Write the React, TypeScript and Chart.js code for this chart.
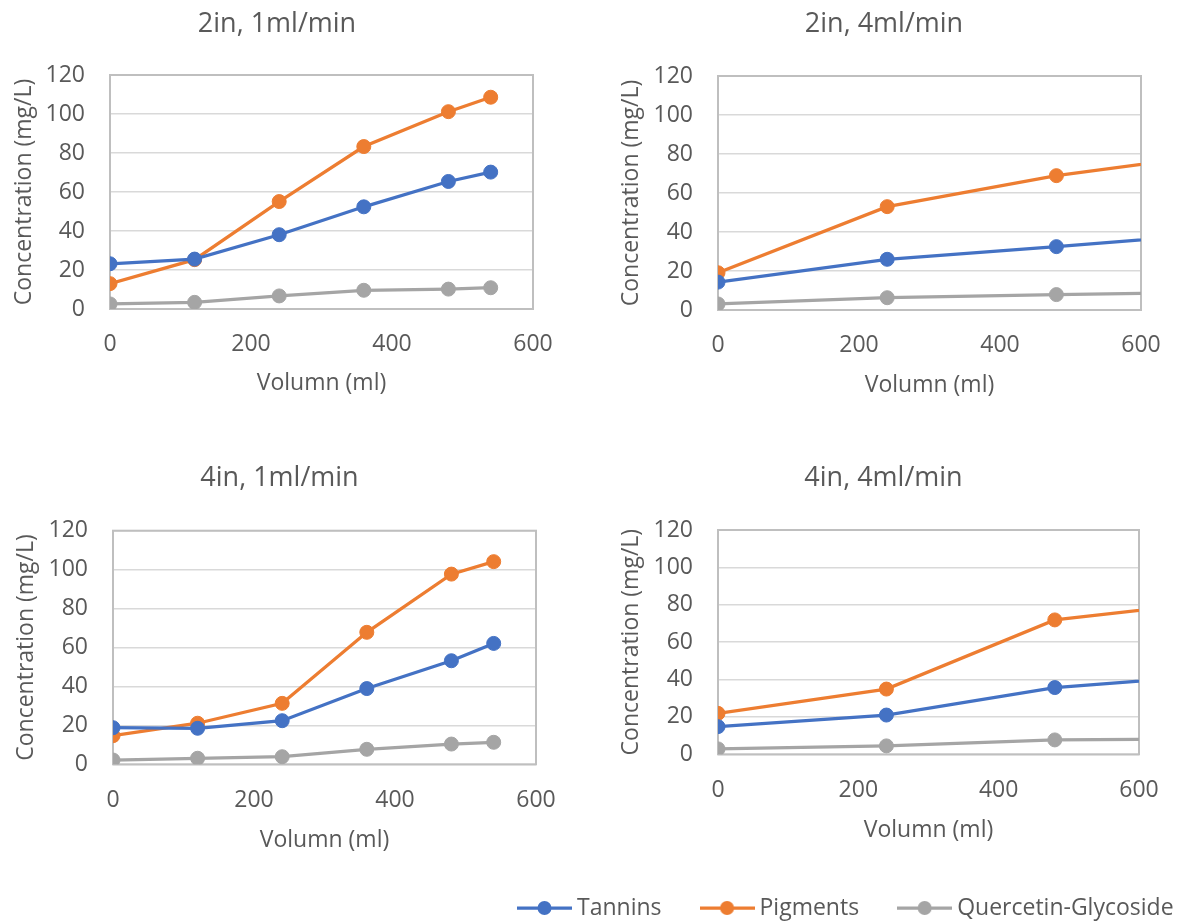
import React, { useEffect, useRef } from 'react';
import { Chart, registerables } from 'chart.js';

Chart.register(...registerables);

// ---------- data ----------
const volumeSixPoints = [0, 120, 240, 360, 480, 540];
const volumeFourPoints = [0, 240, 480, 720];

const tannins2in1 = [23.2, 25.6, 38.1, 52.4, 65.4, 70.2];
const pigments2in1 = [13.0, 25.3, 55.1, 83.3, 101.2, 108.6];
const quercetin2in1 = [2.6, 3.4, 6.7, 9.6, 10.2, 10.9];

const tannins2in4 = [14.3, 26.0, 32.5, 39.3];
const pigments2in4 = [19.1, 53.0, 68.9, 80.5];
const quercetin2in4 = [3.1, 6.3, 7.9, 9.1];

const tannins4in1 = [18.8, 18.5, 22.4, 38.9, 53.2, 62.1];
const pigments4in1 = [14.7, 21.1, 31.3, 67.8, 97.7, 104.1];
const quercetin4in1 = [2.2, 3.1, 3.9, 7.7, 10.4, 11.3];

const tannins4in4 = [14.8, 21.0, 35.7, 42.7];
const pigments4in4 = [21.9, 34.9, 71.9, 82.1];
const quercetin4in4 = [2.9, 4.5, 7.7, 8.3];

const seriesLabels = ['Tannins', 'Pigments', 'Quercetin-Glycoside'];
const seriesColors = ['#4472C4', '#ED7D31', '#A5A5A5'];
const xTickValues = [0, 200, 400, 600];
const yTickValues = [0, 20, 40, 60, 80, 100, 120];
const panelTitles = ['2in, 1ml/min', '2in, 4ml/min', '4in, 1ml/min', '4in, 4ml/min'];
const xAxisTitle = 'Volumn (ml)';
const yAxisTitle = 'Concentration (mg/L)';

// ---------- style ----------
const TEXT = '#595959';
const GRID = '#D9D9D9';
const BOX = '#BFBFBF';
const FONT = "'Open Sans', sans-serif";
const TITLE_SIZE = 27;
const AXIS_SIZE = 23;
const TICK_SIZE = 23;

Chart.defaults.font.family = FONT;
Chart.defaults.color = TEXT;

type Layout = {
  plotLeft: number; plotRight: number; plotTop: number; plotBottom: number;
  titleCx: number; titleCy: number; yTitleCx: number; xTickCy: number; xTitleCy: number;
};

const panels = [
  {
    title: panelTitles[0], volume: volumeSixPoints,
    values: [tannins2in1, pigments2in1, quercetin2in1],
    layout: { plotLeft: 110, plotRight: 533, plotTop: 75, plotBottom: 309, titleCx: 277, titleCy: 24.5, yTitleCx: 24, xTickCy: 344, xTitleCy: 383 },
  },
  {
    title: panelTitles[1], volume: volumeFourPoints,
    values: [tannins2in4, pigments2in4, quercetin2in4],
    layout: { plotLeft: 718, plotRight: 1141, plotTop: 76, plotBottom: 310, titleCx: 884, titleCy: 24.5, yTitleCx: 631.5, xTickCy: 345, xTitleCy: 385 },
  },
  {
    title: panelTitles[2], volume: volumeSixPoints,
    values: [tannins4in1, pigments4in1, quercetin4in1],
    layout: { plotLeft: 113, plotRight: 536, plotTop: 530.7, plotBottom: 764.3, titleCx: 279.5, titleCy: 478.5, yTitleCx: 26.5, xTickCy: 800, xTitleCy: 840 },
  },
  {
    title: panelTitles[3], volume: volumeFourPoints,
    values: [tannins4in4, pigments4in4, quercetin4in4],
    layout: { plotLeft: 718, plotRight: 1139, plotTop: 530, plotBottom: 754.3, titleCx: 883.5, titleCy: 478.5, yTitleCx: 631.5, xTickCy: 790, xTitleCy: 830 },
  },
];

function computeGeometry(l: Layout) {
  const titleLH = TITLE_SIZE * 1.2;
  const axisLH = AXIS_SIZE * 1.2;
  const leftEdge = l.yTitleCx - axisLH / 2;
  const cx = Math.floor(leftEdge);
  const L = leftEdge - cx;
  const yW = l.plotLeft - leftEdge;
  const canvasRight = Math.ceil(l.plotRight + 28);
  const W = canvasRight - cx;
  const P = canvasRight - l.plotRight;
  const R = Math.max(0, W - 2 * (l.titleCx - cx) + L);
  const titleTop = l.titleCy - 4 - titleLH / 2;
  const cy = Math.floor(titleTop);
  const Pt = titleTop - cy;
  const titlePadBottom = l.plotTop - titleTop - 4 - titleLH;
  const bottomEdge = l.xTitleCy + 4 + axisLH / 2;
  const canvasBottom = Math.ceil(bottomEdge);
  const Pb = canvasBottom - bottomEdge;
  const H = canvasBottom - cy;
  const xH = bottomEdge - l.plotBottom;
  const xTickPad = l.xTickCy - l.plotBottom - axisLH / 2;
  return { cx, cy, W, H, L, R, P, Pt, Pb, yW, xH, xTickPad, titlePadBottom };
}

const plotBox = {
  id: 'plotBox',
  beforeDatasetsDraw(chart: any) {
    const { ctx, chartArea: a } = chart;
    ctx.save();
    ctx.strokeStyle = BOX;
    ctx.lineWidth = 2;
    ctx.strokeRect(a.left, a.top, a.right - a.left, a.bottom - a.top);
    ctx.restore();
  },
};

function Panel({ panel }: { panel: typeof panels[number] }) {
  const ref = useRef<HTMLCanvasElement | null>(null);
  const g = computeGeometry(panel.layout);
  useEffect(() => {
    if (!ref.current) return;
    const chart = new Chart(ref.current, {
      type: 'line',
      data: {
        datasets: seriesLabels.map((label, i) => ({
          label,
          data: panel.volume.map((v, j) => ({ x: v, y: panel.values[i][j] })),
          borderColor: seriesColors[i],
          backgroundColor: seriesColors[i],
          borderWidth: 3.25,
          pointRadius: 7,
          pointBorderWidth: 1,
          pointBackgroundColor: seriesColors[i],
          pointBorderColor: seriesColors[i],
          tension: 0,
          fill: false,
        })),
      },
      options: {
        animation: false,
        responsive: false,
        events: [],
        layout: { padding: { left: g.L, right: g.R, top: g.Pt, bottom: g.Pb } },
        plugins: {
          legend: { display: false },
          tooltip: { enabled: false },
          title: {
            display: true,
            text: panel.title,
            color: TEXT,
            font: { size: TITLE_SIZE, weight: 'normal', family: FONT },
            padding: { top: 4, bottom: g.titlePadBottom },
          },
        },
        scales: {
          x: {
            type: 'linear',
            min: 0,
            max: 600,
            afterBuildTicks: (s: any) => { s.ticks = xTickValues.map((value) => ({ value })); },
            afterFit: (s: any) => { s.height = g.xH; s.paddingRight = g.P; },
            ticks: { padding: g.xTickPad, color: TEXT, font: { size: TICK_SIZE, family: FONT }, maxRotation: 0 },
            grid: { display: false, drawTicks: false, tickLength: 0 },
            border: { display: false },
            title: { display: true, text: xAxisTitle, color: TEXT, font: { size: AXIS_SIZE, family: FONT }, padding: { top: 0, bottom: 4 } },
          },
          y: {
            type: 'linear',
            min: 0,
            max: 120,
            afterBuildTicks: (s: any) => { s.ticks = yTickValues.map((value) => ({ value })); },
            afterFit: (s: any) => { s.width = g.yW; },
            ticks: { padding: 25, color: TEXT, font: { size: TICK_SIZE, family: FONT } },
            grid: { color: GRID, lineWidth: 1.5, drawTicks: false, tickLength: 0 },
            border: { display: false },
            title: { display: true, text: yAxisTitle, color: TEXT, font: { size: AXIS_SIZE, family: FONT }, padding: 0 },
          },
        },
      } as any,
      plugins: [plotBox],
    });
    return () => chart.destroy();
  }, []);
  return (
    <canvas
      ref={ref}
      width={g.W}
      height={g.H}
      style={{ position: 'absolute', left: g.cx, top: g.cy, width: g.W, height: g.H }}
    />
  );
}

function makeMarker(color: string) {
  const c = document.createElement('canvas');
  c.width = 55;
  c.height = 16;
  const ctx = c.getContext('2d')!;
  ctx.strokeStyle = color;
  ctx.lineWidth = 3.25;
  ctx.beginPath();
  ctx.moveTo(0, 8);
  ctx.lineTo(55, 8);
  ctx.stroke();
  ctx.fillStyle = color;
  ctx.beginPath();
  ctx.arc(27.5, 8, 7, 0, Math.PI * 2);
  ctx.fill();
  return c;
}

const LEGEND_LEFT = 479;
const LEGEND_TOP = 852;
const LEGEND_W = 800;
const LEGEND_H = 70;

function SharedLegend() {
  const ref = useRef<HTMLCanvasElement | null>(null);
  useEffect(() => {
    if (!ref.current) return;
    const chart = new Chart(ref.current, {
      type: 'line',
      data: {
        datasets: seriesLabels.map((label, i) => ({
          label,
          data: [],
          borderColor: seriesColors[i],
          backgroundColor: seriesColors[i],
        })),
      },
      options: {
        animation: false,
        responsive: false,
        events: [],
        layout: { padding: 0 },
        scales: { x: { display: false }, y: { display: false } },
        plugins: {
          tooltip: { enabled: false },
          legend: {
            display: true,
            position: 'top',
            align: 'start',
            maxHeight: 200,
            maxWidth: LEGEND_W,
            labels: {
              usePointStyle: true,
              pointStyleWidth: 42,
              padding: 44.5,
              color: TEXT,
              font: { size: AXIS_SIZE, family: FONT },
              generateLabels: (c: any) =>
                c.data.datasets.map((ds: any, i: number) => ({
                  text: ds.label,
                  fillStyle: ds.borderColor,
                  strokeStyle: ds.borderColor,
                  lineWidth: 0,
                  pointStyle: makeMarker(ds.borderColor),
                  hidden: false,
                  datasetIndex: i,
                  fontColor: TEXT,
                })),
            },
          },
        },
      } as any,
    });
    return () => chart.destroy();
  }, []);
  return (
    <canvas
      ref={ref}
      width={LEGEND_W}
      height={LEGEND_H}
      style={{ position: 'absolute', left: LEGEND_LEFT, top: LEGEND_TOP, width: LEGEND_W, height: LEGEND_H }}
    />
  );
}

export default function App() {
  return (
    <div
      style={{
        position: 'absolute', left: 0, top: 0, width: 1181, height: 922,
        overflow: 'hidden', background: '#ffffff',
      }}
    >
      {panels.map((p, i) => (
        <Panel key={i} panel={p} />
      ))}
      <SharedLegend />
    </div>
  );
}
